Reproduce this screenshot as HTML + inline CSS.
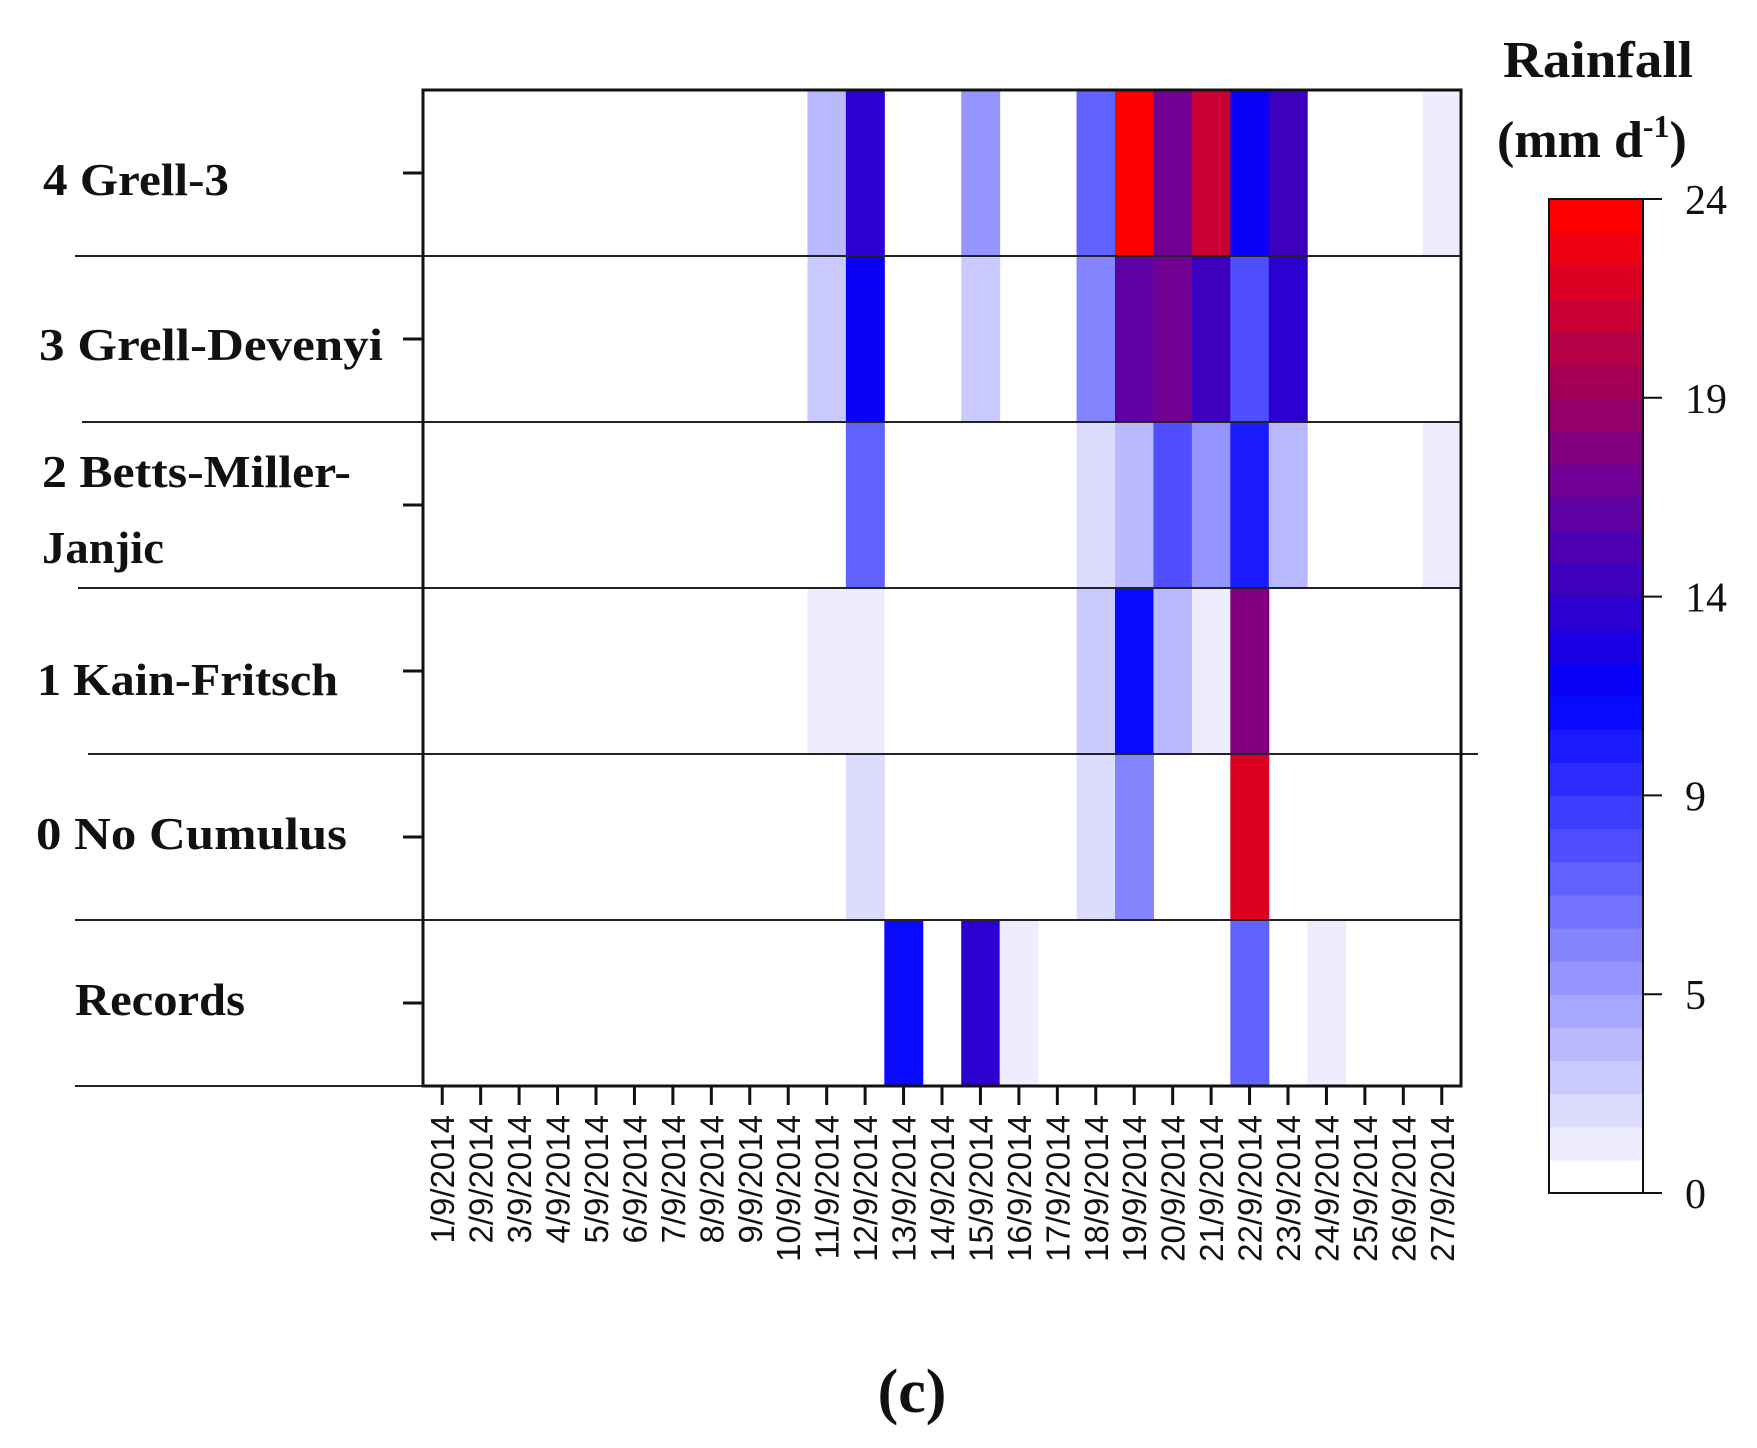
<!DOCTYPE html>
<html><head><meta charset="utf-8"><style>
html,body{margin:0;padding:0;background:#fff;}
svg{display:block;}
.lab{font-family:"Liberation Serif",serif;font-weight:bold;font-size:46px;fill:#111;}
.tk{font-family:"Liberation Sans",sans-serif;font-size:33px;fill:#111;}
.cb{font-family:"Liberation Serif",serif;font-size:42px;fill:#111;}
</style></head><body>
<svg id="chart" width="1757" height="1448" viewBox="0 0 1757 1448" xmlns="http://www.w3.org/2000/svg">
<g id="cells"></g>
<g id="grid"></g>
<rect x="423" y="90" width="1038" height="996" fill="none" stroke="#111" stroke-width="3"/>
<g id="yaxis">
<text class="lab" x="43" y="195" textLength="186" lengthAdjust="spacingAndGlyphs">4 Grell-3</text>
<text class="lab" x="39" y="360" textLength="344" lengthAdjust="spacingAndGlyphs">3 Grell-Devenyi</text>
<text class="lab" x="42" y="487" textLength="309" lengthAdjust="spacingAndGlyphs">2 Betts-Miller-</text>
<text class="lab" x="42" y="563" textLength="122" lengthAdjust="spacingAndGlyphs">Janjic</text>
<text class="lab" x="37" y="695" textLength="301" lengthAdjust="spacingAndGlyphs">1 Kain-Fritsch</text>
<text class="lab" x="36" y="849" textLength="311" lengthAdjust="spacingAndGlyphs">0 No Cumulus</text>
<text class="lab" x="75" y="1015" textLength="170" lengthAdjust="spacingAndGlyphs">Records</text>
</g>
<g id="xaxis"></g>
<g id="cbar"></g>
<text x="1503" y="77" font-family="Liberation Serif,serif" font-weight="bold" font-size="52" fill="#111" textLength="190" lengthAdjust="spacingAndGlyphs">Rainfall</text>
<text x="1497" y="157" font-family="Liberation Serif,serif" font-weight="bold" font-size="52" fill="#111">(mm d<tspan font-size="32" dy="-20">-1</tspan><tspan dy="20">)</tspan></text>
<text x="912" y="1412" text-anchor="middle" font-family="Liberation Serif,serif" font-weight="bold" font-size="62" fill="#111">(c)</text>
</svg>
<script>
const days = ["1/9/2014","2/9/2014","3/9/2014","4/9/2014","5/9/2014","6/9/2014","7/9/2014","8/9/2014","9/9/2014","10/9/2014","11/9/2014","12/9/2014","13/9/2014","14/9/2014","15/9/2014","16/9/2014","17/9/2014","18/9/2014","19/9/2014","20/9/2014","21/9/2014","22/9/2014","23/9/2014","24/9/2014","25/9/2014","26/9/2014","27/9/2014"];
const rows = ["4 Grell-3","3 Grell-Devenyi","2 Betts-Miller-Janjic","1 Kain-Fritsch","0 No Cumulus","Records"];
const grell3 =  [0,0,0,0,0,0,0,0,0,0,3.5,14,0,0,5,0,0,7.5,24,17,21,12,14.5,0,0,0,0.5];
const grellDev = [0,0,0,0,0,0,0,0,0,0,2.5,12,0,0,2.5,0,0,6,16,17,14.5,8,13.5,0,0,0,0];
const bettsMJ =  [0,0,0,0,0,0,0,0,0,0,0,7.5,0,0,0,0,0,1.5,3.5,8,5,10.5,3.5,0,0,0,0.5];
const kainF =    [0,0,0,0,0,0,0,0,0,0,0.5,0.5,0,0,0,0,0,2.5,11,3.5,0.5,18,0,0,0,0,0];
const noCum =    [0,0,0,0,0,0,0,0,0,0,0,1.5,0,0,0,0,0,1.5,6,0,0,22.5,0,0,0,0,0];
const records =  [0,0,0,0,0,0,0,0,0,0,0,0,11,0,14,0.5,0,0,0,0,0,7.5,0,0.5,0,0,0];
const series = [grell3, grellDev, bettsMJ, kainF, noCum, records];
const cbTicks = [0,5,9,14,19,24];

const NS="http://www.w3.org/2000/svg";
const X0=423,X1=1461,Y0=90,Y1=1086;
const cw=(X1-X0)/days.length, rh=(Y1-Y0)/rows.length;
const xPos=i=>X0+i*cw, yPos=j=>Y0+j*rh;
function frac(v){for(let k=1;k<cbTicks.length;k++){if(v<=cbTicks[k]){const a=cbTicks[k-1],b=cbTicks[k];return ((k-1)+(v-a)/(b-a))/(cbTicks.length-1);}}return 1;}
const stops=[[0,[255,255,255]],[0.5,[0,0,255]],[0.62,[60,0,190]],[0.72,[110,0,150]],[0.82,[160,0,90]],[1,[255,0,0]]];
function colF(f){f=Math.min(1,Math.max(0,f));for(let k=1;k<stops.length;k++){if(f<=stops[k][0]){const[a,ca]=stops[k-1],[b,cb]=stops[k];const t=(f-a)/(b-a);return "rgb("+ca.map((c,i)=>Math.round(c+(cb[i]-c)*t)).join(",")+")";}}return "rgb(255,0,0)";}
const N=30;
function quant(f){return Math.max(1,Math.min(N-1,Math.round(f*(N-1))))/(N-1);}
function mk(tag,attrs,parent){const e=document.createElementNS(NS,tag);for(const k in attrs)e.setAttribute(k,attrs[k]);parent.appendChild(e);return e;}
const cells=document.getElementById('cells');
series.forEach((s,j)=>s.forEach((v,i)=>{if(v<=0)return;
const r=mk('rect',{x:xPos(i),y:yPos(j),width:cw+0.5,height:rh,fill:colF(quant(frac(v)))},cells);

}));
const grid=document.getElementById('grid');
const lineStarts=[75,82,78,88,75,75];
for(let j=1;j<=rows.length;j++){const l=mk('line',{x1:lineStarts[j-1],x2:j===4?1478:X1,y1:yPos(j),y2:yPos(j),stroke:'#222','stroke-width':2},grid);

}
const yax=document.getElementById('yaxis');
rows.forEach((r,j)=>{const t=mk('line',{x1:403,x2:X0,y1:yPos(j)+rh/2,y2:yPos(j)+rh/2,stroke:'#111','stroke-width':3},yax);

});
const xax=document.getElementById('xaxis');
days.forEach((d,i)=>{const cx=xPos(i)+cw/2;
const t=mk('line',{x1:cx,x2:cx,y1:Y1,y2:1105,stroke:'#111','stroke-width':3},xax);


const tx=mk('text',{class:'tk',x:0,y:0,'text-anchor':'end',transform:`translate(${cx+12},1115) rotate(-90)`},xax);
tx.textContent=d;

});
const cbar=document.getElementById('cbar');
const CX=1549,CW=94,CT=199,CB=1193;
for(let k=0;k<N;k++){const y=CB-(k+1)*(CB-CT)/N;
const r=mk('rect',{x:CX,y:y,width:CW,height:(CB-CT)/N+0.6,fill:colF(k/(N-1))},cbar);

}
mk('rect',{x:CX,y:CT,width:CW,height:CB-CT,fill:'none',stroke:'#111','stroke-width':2},cbar);
cbTicks.forEach((v,k)=>{const y=CB-frac(v)*(CB-CT);
const l=mk('line',{x1:CX+CW,x2:CX+CW+19,y1:y,y2:y,stroke:'#111','stroke-width':2},cbar);


const t=mk('text',{class:'cb',x:1685,y:y+15},cbar);t.textContent=v;

});
</script>
</body></html>
